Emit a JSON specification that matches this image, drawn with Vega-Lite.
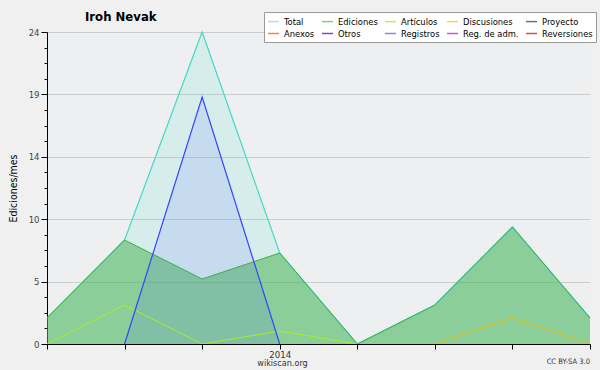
{
  "$schema": "https://vega.github.io/schema/vega-lite/v6.json",
  "width": 543,
  "height": 312,
  "autosize": {"type": "none"},
  "padding": {"left": 47, "top": 32, "right": 10, "bottom": 26},
  "background": "#f0f0f0",
  "config": {
    "view": {"fill": "#eeeff1", "stroke": null},
    "font": "'DejaVu Sans Condensed', 'DejaVu Sans'"
  },
  "title": {
    "text": "Iroh Nevak",
    "anchor": "start",
    "frame": "group",
    "dx": 38,
    "dy": 21,
    "offset": 9,
    "fontSize": 13,
    "fontWeight": "bold",
    "color": "#000000",
    "font": "'DejaVu Sans Condensed', 'DejaVu Sans'"
  },
  "data": {
    "values": [
      {"m": "2013-10", "s": "Total", "v": 2},
      {"m": "2013-11", "s": "Total", "v": 8},
      {"m": "2013-12", "s": "Total", "v": 24},
      {"m": "2014-01", "s": "Total", "v": 7},
      {"m": "2014-02", "s": "Total", "v": 0},
      {"m": "2014-03", "s": "Total", "v": 3},
      {"m": "2014-04", "s": "Total", "v": 9},
      {"m": "2014-05", "s": "Total", "v": 2},
      {"m": "2013-10", "s": "Ediciones", "v": 2},
      {"m": "2013-11", "s": "Ediciones", "v": 8},
      {"m": "2013-12", "s": "Ediciones", "v": 5},
      {"m": "2014-01", "s": "Ediciones", "v": 7},
      {"m": "2014-02", "s": "Ediciones", "v": 0},
      {"m": "2014-03", "s": "Ediciones", "v": 3},
      {"m": "2014-04", "s": "Ediciones", "v": 9},
      {"m": "2014-05", "s": "Ediciones", "v": 2},
      {"m": "2013-11", "s": "Registros", "v": 0},
      {"m": "2013-12", "s": "Registros", "v": 19},
      {"m": "2014-01", "s": "Registros", "v": 0},
      {"m": "2013-10", "s": "Artículos", "v": 0},
      {"m": "2013-11", "s": "Artículos", "v": 3},
      {"m": "2013-12", "s": "Artículos", "v": 0},
      {"m": "2014-01", "s": "Artículos", "v": 1},
      {"m": "2014-02", "s": "Artículos", "v": 0},
      {"m": "2014-03", "s": "Discusiones", "v": 0},
      {"m": "2014-04", "s": "Discusiones", "v": 2},
      {"m": "2014-05", "s": "Discusiones", "v": 0}
    ]
  },
  "encoding": {
    "x": {
      "field": "m",
      "type": "ordinal",
      "sort": null,
      "scale": {"type": "point", "padding": 0},
      "axis": {
        "labelExpr": "datum.value == '2014-01' ? '2014' : ''",
        "labelAngle": 0,
        "tickSize": 5,
        "tickColor": "#000000",
        "domainColor": "#000000",
        "labelColor": "#333333",
        "labelFontSize": 9.5,
        "labelPadding": 0,
        "title": "wikiscan.org",
        "titleFontSize": 9,
        "titleFontWeight": "normal",
        "titleColor": "#333333",
        "titleX": 235,
        "titlePadding": 0,
        "zindex": 1
      }
    },
    "y": {
      "field": "v",
      "type": "quantitative",
      "scale": {"domain": [0, 24], "nice": false},
      "axis": {
        "values": [0, 1.2, 2.4, 3.6, 4.8, 6, 7.2, 8.4, 9.6, 10.8, 12, 13.2, 14.4, 15.6, 16.8, 18, 19.2, 20.4, 21.6, 22.8, 24],
        "labelExpr": "abs(datum.value / 4.8 - round(datum.value / 4.8)) < 0.01 ? format(round(datum.value), 'd') : ''",
        "tickSize": {"condition": {"test": "abs(datum.value / 4.8 - round(datum.value / 4.8)) < 0.01", "value": 6}, "value": 3},
        "gridOpacity": {"condition": {"test": "abs(datum.value / 4.8 - round(datum.value / 4.8)) < 0.01", "value": 1}, "value": 0},
        "grid": true,
        "gridColor": "#cccccc",
        "tickColor": "#000000",
        "domainColor": "#000000",
        "labelColor": "#444444",
        "labelFontSize": 9.5,
        "labelPadding": 2,
        "title": "Ediciones/mes",
        "titleFontSize": 10.5,
        "titleFontWeight": "normal",
        "titleColor": "#000000",
        "titlePadding": 10
      }
    }
  },
  "layer": [
    {
      "transform": [{"filter": "datum.s == 'Total'"}],
      "mark": {"type": "area", "fill": "#40e0d0", "fillOpacity": 0.13}
    },
    {
      "transform": [{"filter": "datum.s == 'Ediciones'"}],
      "mark": {"type": "area", "fill": "#40b048", "fillOpacity": 0.5}
    },
    {
      "transform": [{"filter": "datum.s == 'Registros'"}],
      "mark": {"type": "area", "fill": "#3344ff", "fillOpacity": 0.1}
    },
    {
      "transform": [{"filter": "datum.s == 'Total'"}],
      "mark": {"type": "line", "stroke": "#40d8c8", "strokeWidth": 1.2}
    },
    {
      "transform": [{"filter": "datum.s == 'Ediciones'"}],
      "mark": {"type": "line", "stroke": "#3cb043", "strokeWidth": 1}
    },
    {
      "transform": [{"filter": "datum.s == 'Artículos'"}],
      "mark": {"type": "line", "stroke": "#aaee22", "strokeWidth": 1}
    },
    {
      "transform": [{"filter": "datum.s == 'Registros'"}],
      "mark": {"type": "line", "stroke": "#3344ff", "strokeWidth": 1.2}
    },
    {
      "transform": [{"filter": "datum.s == 'Discusiones'"}],
      "mark": {"type": "line", "stroke": "#f0c000", "strokeWidth": 1}
    },
    {
      "mark": {"type": "rule", "strokeOpacity": 0},
      "encoding": {
        "x": null,
        "y": {"datum": 0},
        "stroke": {
          "field": "s",
          "type": "nominal",
          "scale": {
            "domain": ["Total", "Ediciones", "Artículos", "Discusiones", "Proyecto", "Anexos", "Otros", "Registros", "Reg. de adm.", "Reversiones"],
            "range": ["#a8e4e0", "#88c888", "#c8e860", "#f8d060", "#707070", "#f08850", "#8844cc", "#8888ee", "#cc55dd", "#e84848"]
          },
          "legend": {
            "orient": "none",
            "legendX": 217,
            "legendY": -20,
            "direction": "horizontal",
            "columns": 5,
            "title": null,
            "symbolType": "stroke",
            "symbolSize": 121,
            "symbolStrokeWidth": 1.5,
            "symbolOpacity": 1,
            "labelFontSize": 9.3,
            "labelColor": "#000000",
            "labelOffset": 4,
            "columnPadding": 4,
            "rowPadding": -5,
            "padding": 3,
            "fillColor": "#ffffff",
            "strokeColor": "#999999"
          }
        }
      }
    },
    {
      "data": {"values": [{"m": "2014-05", "v": 0, "label": "CC BY-SA 3.0"}]},
      "mark": {"type": "text", "align": "right", "baseline": "middle", "dy": 18, "fontSize": 7.5, "color": "#333333"},
      "encoding": {
        "text": {"field": "label"}
      }
    }
  ]
}
